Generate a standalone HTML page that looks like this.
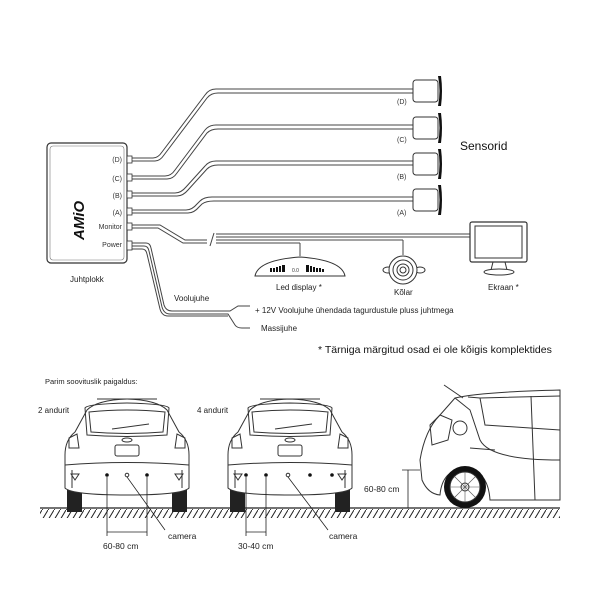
<!DOCTYPE html>
<html><head><meta charset="utf-8"><style>
html,body{margin:0;padding:0;background:#fff}
svg{display:block;font-family:"Liberation Sans",sans-serif}
</style></head><body>
<svg width="600" height="600" viewBox="0 0 600 600" xmlns="http://www.w3.org/2000/svg">
<defs>
<pattern id="hatch" width="6" height="10" patternUnits="userSpaceOnUse">
<line x1="6" y1="0" x2="0" y2="10" stroke="#222" stroke-width="1"/>
</pattern>
<g id="car" fill="none" stroke="#333" stroke-width="1">
<path d="M-60,80 L-60,112 L-45,112 L-45,93 Z" fill="#222" stroke="none"/>
<path d="M60,80 L60,112 L45,112 L45,93 Z" fill="#222" stroke="none"/>
<path d="M-62,88 L-62,55 Q-62,40 -52,32 L-40,10 Q-30,0 0,-1 Q30,0 40,10 L52,32 Q62,40 62,55 L62,88 Q55,95 0,95 Q-55,95 -62,88 Z" fill="#fff"/>
<path d="M-42,8 Q-40,4 0,3 Q40,4 42,8 L40,35 Q0,38 -40,35 Z"/>
<path d="M-38,12 Q0,8 38,12 L36,32 Q0,35 -36,32 Z"/>
<path d="M-15,29 L22,24"/>
<rect x="-12" y="45" width="24" height="11" rx="2"/>
<ellipse cx="0" cy="40" rx="5" ry="2"/>
<path d="M-58,38 L-50,34 L-48,48 L-58,48 Z M58,38 L50,34 L48,48 L58,48 Z"/>
<path d="M-62,65 Q0,60 62,65 M-55,88 L-55,70 M55,88 L55,70"/>
<path d="M-56,74 L-48,74 L-52,80 Z M56,74 L48,74 L52,80 Z"/>
<path d="M-30,-1 L30,-1"/>
</g>
<g id="sensor">
<rect x="0" y="0" width="25" height="22" rx="3" fill="#fff" stroke="#333"/>
<path d="M25,-4 Q28,11 25,26 L28,26 Q30,11 28,-4 Z" fill="#111"/>
</g>
</defs>

<rect x="47" y="143" width="80" height="120" rx="4" fill="#fff" stroke="#333" stroke-width="1.2"/>
<rect x="50" y="146" width="74" height="114" rx="3" fill="none" stroke="#777" stroke-width="0.6"/>
<text transform="translate(84,240) rotate(-90)" font-size="15" font-weight="bold" font-style="italic" fill="#111">AMiO</text>
<g font-size="7" fill="#333" text-anchor="end">
<text x="122" y="162">(D)</text><text x="122" y="181">(C)</text><text x="122" y="198">(B)</text><text x="122" y="215">(A)</text>
<text x="122" y="229">Monitor</text><text x="122" y="247">Power</text>
</g>
<text x="70" y="282" font-size="8" fill="#222">Juhtplokk</text>

<g fill="none" stroke="#444" stroke-width="1">
<path d="M128,158 H153 Q158,158 162,152 L205,95 Q209,89 216,89 H413"/>
<path d="M128,161 H155 Q160,161 164,155 L207,98 Q211,93 218,93 H413"/>
<path d="M128,176 H165 Q171,176 175,170 L205,130 Q209,125 216,125 H413"/>
<path d="M128,179 H167 Q173,179 177,173 L207,133 Q211,129 218,129 H413"/>
<path d="M128,193 H175 Q181,193 186,187 L205,166 Q209,161 216,161 H413"/>
<path d="M128,196 H177 Q183,196 188,190 L207,169 Q211,165 218,165 H413"/>
<path d="M128,210 H186 Q192,210 197,204 L200,201 Q204,197 212,197 H413"/>
<path d="M128,213 H188 Q194,213 199,207 L202,204 Q206,201 214,201 H413"/>
<path d="M128,225 H160 L185,240 H207"/>
<path d="M128,228 H158 L183,243 H207"/>
<path d="M210,246 L214,233"/>
<path d="M216,234 H470 M216,237 H470 M216,240 H403 M216,243 H300"/>
<path d="M300,243 V256 M403,240 V255"/>
<path d="M128,243 H146 Q150,243 151,248 L164,305 Q166,311 172,311 H230 L238,306 H250"/>
<path d="M128,246 H144 Q148,246 149,251 L162,307 Q164,314 170,314 H228 L235,325 Q237,328 242,328 H250"/>
<path d="M128,249 H142 Q146,249 147,254 L160,309 Q162,316 168,316 H228"/>
</g>
<g fill="#fff" stroke="#333" stroke-width="0.8">
<rect x="127" y="156" width="5" height="7"/><rect x="127" y="174" width="5" height="7"/><rect x="127" y="191" width="5" height="7"/><rect x="127" y="208" width="5" height="7"/><rect x="127" y="223" width="5" height="7"/><rect x="127" y="241" width="5" height="9"/>
</g>

<use href="#sensor" x="413" y="80"/>
<use href="#sensor" x="413" y="117"/>
<use href="#sensor" x="413" y="153"/>
<use href="#sensor" x="413" y="189"/>
<g font-size="7" fill="#333">
<text x="397" y="104">(D)</text><text x="397" y="142">(C)</text><text x="397" y="179">(B)</text><text x="397" y="215">(A)</text>
</g>
<text x="460" y="150" font-size="12" fill="#111">Sensorid</text>

<path d="M255,276 Q258,260 300,257 Q342,260 345,276 Z" fill="#fff" stroke="#333"/>
<g fill="#111">
<rect x="270" y="268" width="2" height="4"/><rect x="273" y="268" width="2" height="4"/><rect x="276" y="267" width="2" height="5"/><rect x="279" y="266" width="2" height="6"/><rect x="282" y="265" width="3" height="7"/>
<rect x="306" y="265" width="3" height="7"/><rect x="310" y="266" width="2" height="6"/><rect x="313" y="267" width="2" height="5"/><rect x="316" y="268" width="2" height="4"/><rect x="319" y="268" width="2" height="4"/><rect x="322" y="269" width="2" height="3"/>
</g>
<text x="292" y="272" font-size="5" fill="#333">0.0</text>
<text x="276" y="290" font-size="8" fill="#222">Led display *</text>

<g fill="none" stroke="#333">
<ellipse cx="388" cy="270" rx="5" ry="3"/><ellipse cx="420" cy="270" rx="5" ry="3"/>
<circle cx="403" cy="270" r="14" fill="#fff"/><circle cx="403" cy="270" r="10"/><circle cx="403" cy="270" r="6"/><circle cx="403" cy="270" r="3"/>
</g>
<text x="394" y="295" font-size="8" fill="#222">Kõlar</text>

<rect x="470" y="222" width="57" height="40" rx="2" fill="#fff" stroke="#333" stroke-width="1.2"/>
<rect x="475" y="226" width="47" height="32" fill="none" stroke="#333"/>
<path d="M493,262 L491,270 M505,262 L507,270" stroke="#333" fill="none"/>
<ellipse cx="499" cy="272" rx="15" ry="3" fill="#fff" stroke="#333"/>
<text x="488" y="290" font-size="8" fill="#222">Ekraan *</text>

<text x="174" y="301" font-size="8" fill="#222">Voolujuhe</text>
<text x="255" y="313" font-size="8" fill="#222">+ 12V Voolujuhe ühendada tagurdustule pluss juhtmega</text>
<text x="261" y="331" font-size="8" fill="#222">Massijuhe</text>
<text x="318" y="353" font-size="10.5" fill="#111">*  Tärniga märgitud osad ei ole kõigis komplektides</text>

<text x="45" y="384" font-size="7.5" fill="#222">Parim soovituslik paigaldus:</text>
<text x="38" y="413" font-size="8" fill="#222">2 andurit</text>
<text x="197" y="413" font-size="8" fill="#222">4 andurit</text>

<use href="#car" x="127" y="400"/>
<use href="#car" x="290" y="400"/>

<line x1="40" y1="508" x2="560" y2="508" stroke="#222" stroke-width="1.2"/>
<rect x="40" y="509" width="520" height="9" fill="url(#hatch)"/>

<g fill="none" stroke="#333" stroke-width="1">
<path d="M422,480 L420,460 Q425,430 440,415 L455,398 Q480,392 560,390 L560,500 L490,500 Q488,470 465,468 Q442,470 440,495 Q428,494 422,480 Z" fill="#fff"/>
<path d="M455,398 L470,410 L480,440 Q490,460 560,460"/>
<path d="M468,397 L480,398 L560,396 M480,398 L485,425 L560,430 M531,396 L535,500"/>
<path d="M430,425 L440,415 L452,420 L448,440 L432,445 Z"/>
<circle cx="460" cy="428" r="7"/>
<path d="M463,398 L444,385"/>
<path d="M470,448 L495,450"/>
</g>
<circle cx="465" cy="487" r="21" fill="#111"/>
<circle cx="465" cy="487" r="15" fill="#fff" stroke="#333"/>
<circle cx="465" cy="487" r="4" fill="none" stroke="#333"/>
<g stroke="#555" stroke-width="0.6">
<line x1="450" y1="487" x2="480" y2="487"/><line x1="465" y1="472" x2="465" y2="502"/><line x1="454" y1="476" x2="476" y2="498"/><line x1="476" y1="476" x2="454" y2="498"/>
</g>

<g fill="#111">
<circle cx="107" cy="475" r="1.8"/><circle cx="147" cy="475" r="1.8"/>
<circle cx="246" cy="475" r="1.8"/><circle cx="266" cy="475" r="1.8"/><circle cx="310" cy="475" r="1.8"/><circle cx="332" cy="475" r="1.8"/>
</g>
<g fill="#fff" stroke="#333"><circle cx="127" cy="475" r="1.8"/><circle cx="288" cy="475" r="1.8"/></g>

<g stroke="#222" stroke-width="0.8" fill="none">
<path d="M107,477 V536 M147,477 V536 M107,532 H147 M127,477 L165,530"/>
<path d="M246,477 V536 M266,477 V536 M246,532 H266 M288,477 L328,530"/>
<path d="M408,470 V508 M402,470 H420"/>
</g>
<text x="103" y="549" font-size="8.5" fill="#222">60-80 cm</text>
<text x="168" y="539" font-size="8.5" fill="#222">camera</text>
<text x="238" y="549" font-size="8.5" fill="#222">30-40 cm</text>
<text x="329" y="539" font-size="8.5" fill="#222">camera</text>
<text x="364" y="492" font-size="8.5" fill="#222">60-80 cm</text>
</svg>
</body></html>
